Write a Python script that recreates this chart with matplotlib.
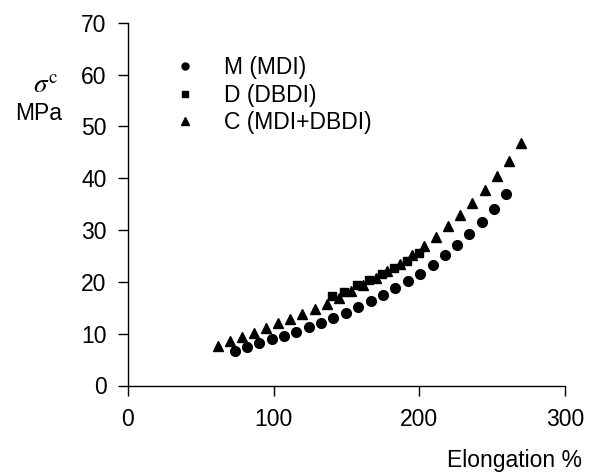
import matplotlib
matplotlib.use("Agg")
import matplotlib.pyplot as plt

plt.rcParams['font.family'] = ['Liberation Sans', 'DejaVu Sans']
plt.rcParams['mathtext.fontset'] = 'stix'

# M (MDI)
m_x = [73.5, 81.7, 90.1, 98.6, 107.1, 115.5, 124.0, 132.7, 140.9, 149.5, 158.1, 166.6,
       175.0, 183.5, 192.1, 200.4, 209.2, 217.3, 225.8, 234.3, 242.7, 251.4, 259.6]
m_y = [6.7, 7.4, 8.2, 8.9, 9.6, 10.35, 11.2, 12.05, 13.0, 13.95, 15.1, 16.3,
       17.4, 18.8, 20.2, 21.6, 23.3, 25.2, 27.1, 29.2, 31.6, 34.1, 36.9]

# D (DBDI)
d_x = [139.8, 148.3, 156.9, 165.6, 174.2, 182.5, 191.3, 199.5]
d_y = [17.2, 18.1, 19.3, 20.3, 21.5, 22.75, 24.1, 25.5]

# C (MDI+DBDI)
c_x = [61.5, 70.0, 78.3, 86.4, 94.7, 103.0, 111.1, 119.6, 128.1, 136.3, 144.8, 153.1, 161.5,
       170.0, 178.0, 186.7, 195.2, 203.1, 211.2, 219.9, 228.0, 236.3, 244.8, 253.2, 261.5, 269.8]
c_y = [7.65, 8.5, 9.3, 10.2, 11.0, 12.0, 12.8, 13.8, 14.7, 15.8, 16.85, 18.2, 19.3,
       20.7, 22.0, 23.5, 25.2, 26.9, 28.7, 30.8, 32.9, 35.3, 37.7, 40.5, 43.4, 46.7]

fs = 16.5
fig = plt.figure(figsize=(5.97, 4.76), dpi=100)
ax = fig.add_axes([128 / 597, 1 - 385.5 / 476, 437 / 597, 362.8 / 476])

ax.plot(m_x, m_y, 'o', color='black', markersize=7.0, label='M (MDI)')
ax.plot(d_x, d_y, 's', color='black', markersize=6.0, label='D (DBDI)')
ax.plot(c_x, c_y, '^', color='black', markersize=7.2, label='C (MDI+DBDI)')

ax.set_xlim(0, 300)
ax.set_ylim(0, 70)
ax.set_xticks([0, 100, 200, 300])
ax.set_yticks(range(0, 71, 10))
for s in ['top', 'right']:
    ax.spines[s].set_visible(False)
for s in ['left', 'bottom']:
    ax.spines[s].set_linewidth(1.0)
ax.tick_params(direction='out', length=7.5, width=1.0, labelsize=fs)
ax.tick_params(axis='x', pad=9)
ax.tick_params(axis='y', pad=8)

leg = ax.legend(loc='upper left', bbox_to_anchor=(174 / 597, 1 - 56 / 476),
                bbox_transform=fig.transFigure, frameon=False, fontsize=fs,
                markerscale=0.72, handlelength=1.0, handletextpad=1.2,
                labelspacing=0.2, borderpad=0, borderaxespad=0)

fig.text(46 / 597, 1 - 86 / 476, r'$\sigma^{\mathrm{c}}$', fontsize=fs + 3, ha='center', va='center')
fig.text(39 / 597, 1 - 113 / 476, 'MPa', fontsize=fs, ha='center', va='center')
fig.text(582 / 597, 1 - 461 / 476, 'Elongation %', fontsize=fs, ha='right', va='center')

fig.savefig('out.png', dpi=100)
